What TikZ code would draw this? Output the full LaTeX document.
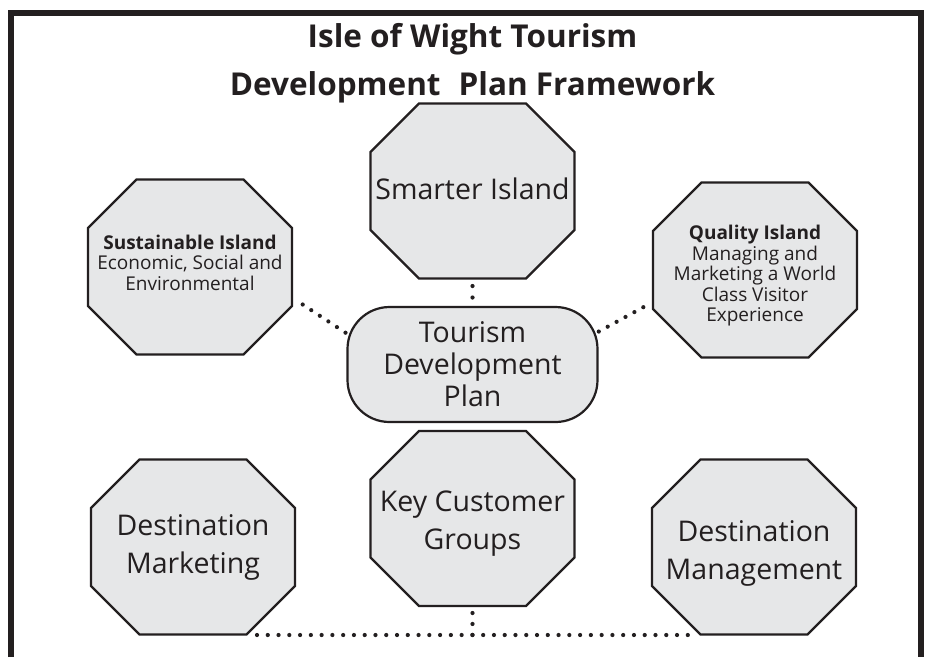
\documentclass[tikz,border=0pt]{standalone}
\usepackage{fontspec}
\setmainfont{Open Sans}
\usetikzlibrary{calc}
\definecolor{ink}{HTML}{231F20}
\definecolor{panel}{HTML}{E6E7E8}
\begin{document}
\begin{tikzpicture}[x=1pt,y=-1pt,
  frameline/.style={draw=ink, line width=6pt, line join=miter},
  octbox/.style={rectangle, minimum width=204pt, minimum height=175pt, inner sep=0pt, outer sep=0pt},
  octline/.style={draw=ink, fill=panel, line width=2.2pt, line join=miter},
  octtext/.style={align=center, text=ink, inner sep=0pt},
  bigtext/.style={octtext, font=\fontsize{28.5}{38}\selectfont},
  smalltext/.style={octtext, font=\fontsize{19}{20.5}\selectfont},
  plan/.style={rectangle, rounded corners=42pt, draw=ink, fill=panel, line width=2.2pt,
    minimum width=250pt, minimum height=115pt, inner sep=0pt, outer sep=0pt,
    align=center, text=ink, font=\fontsize{28.5}{32}\selectfont},
  dotrow/.style={draw=ink, line width=4.2pt, line cap=round, dash pattern=on 0pt off #1},
]
\useasboundingbox (0,0) rectangle (925,657);
\fill[white] (0,0) rectangle (925,657);

% outer frame, open at the bottom
\draw[frameline] (11,657) -- (11,13) -- (921,13) -- (921,657);

% title
\node[align=center, text=ink, inner sep=0pt, font=\fontsize{31.5}{48}\selectfont\bfseries]
  (title) at (472.5,63) {Isle of Wight Tourism\\Development\hspace{18pt}Plan Framework};

% octagon frames
\node[octbox] (smart) at (472.5,191) {};
\node[octbox] (sust)  at (190,267) {};
\node[octbox] (qual)  at (755,270) {};
\node[octbox] (dmark) at (193,547) {};
\node[octbox] (kcg)   at (472.5,518.5) {};
\node[octbox] (dmgmt) at (754,547) {};
\foreach \n in {smart,sust,qual,dmark,kcg,dmgmt}
  \path[octline] ([xshift=48.5pt]\n.north west) -- ([xshift=-48.5pt]\n.north east)
    -- ([yshift=-48.5pt]\n.north east) -- ([yshift=48.5pt]\n.south east)
    -- ([xshift=-48.5pt]\n.south east) -- ([xshift=48.5pt]\n.south west)
    -- ([yshift=48.5pt]\n.south west) -- ([yshift=-48.5pt]\n.north west) -- cycle;

% central plan
\node[plan] (tdp) at (472.5,364.5) {Tourism\\Development\\Plan};

% octagon texts
\node[bigtext] (smart-t) at (472.5,189.3) {Smarter Island};
\node[smalltext] (sust-t) at (190,262.5) {\textbf{Sustainable Island}\\Economic, Social and\\Environmental};
\node[smalltext] (qual-t) at (755,276) {\textbf{Quality Island}\\Managing and\\Marketing a World\\Class Visitor\\Experience};
\node[bigtext] (dmark-t) at (193,547.7) {Destination\\Marketing};
\node[bigtext] (kcg-t) at (472.5,523.3) {Key Customer\\Groups};
\node[bigtext] (dmgmt-t) at (754,553.2) {Destination\\Management};

% dotted links
\coordinate (jn) at (472.5,635);
\coordinate (jl) at (257,635);
\coordinate (jr) at (688,635);
\draw[dotrow=11.5pt, shorten <=7.5pt, shorten >=8.5pt] (smart.south) -- (tdp.north);
\draw[dotrow=10.95pt, shorten <=7pt] (kcg.south) -- (jn);
\draw[dotrow=10.77pt] (jl) -- (jr);
\draw[dotrow=10.25pt] ([shift={(10.7pt,50pt)}]sust.south east) -- ([shift={(-2pt,31.8pt)}]tdp.west);
\draw[dotrow=10.15pt] ([shift={(-9.7pt,50.3pt)}]qual.south west) -- ([shift={(1pt,32.8pt)}]tdp.east);
\end{tikzpicture}
\end{document}
